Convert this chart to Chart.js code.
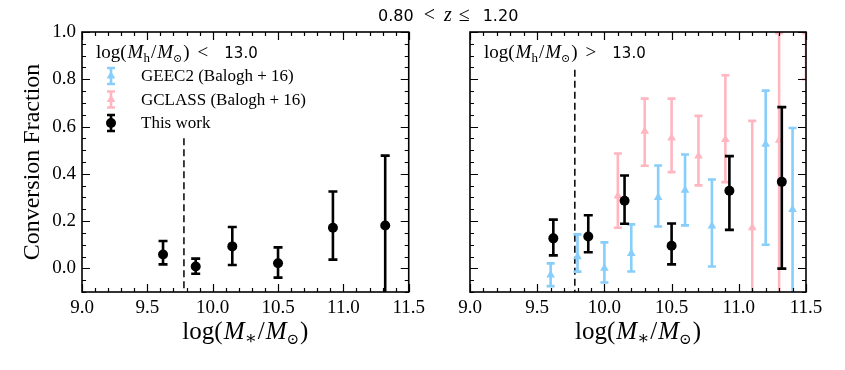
<!DOCTYPE html>
<html>
<head>
<meta charset="utf-8">
<script src="https://cdn.jsdelivr.net/npm/chart.js@4/dist/chart.umd.min.js"></script>
<style>
  body { margin: 0; background: #fff; }
  #wrap { position: relative; width: 845px; height: 370px; }
  #low { position: absolute; left: 0; top: 0; }
  #high { position: absolute; left: 430px; top: 0; }
  #title { position: absolute; left: 378px; top: 3px; white-space: nowrap;
           font: 16px 'DejaVu Sans', sans-serif; color: #000; }
  #title .m { font-family: 'Liberation Serif', 'DejaVu Serif', serif; font-size: 20px; }
</style>
</head>
<body>
<div id="wrap">
  <canvas id="low" width="430" height="370"></canvas>
  <canvas id="high" width="415" height="370"></canvas>
  <div id="title">0.80<span class="m" style="margin-left:10px">&lt;</span><span class="m" style="margin-left:9px"><i>z</i></span><span class="m" style="margin-left:7px">&le;</span><span style="margin-left:13px">1.20</span></div>
</div>
<script>
// axis ticks
const xTicks = [9.0, 9.5, 10.0, 10.5, 11.0, 11.5];
const yTicks = [0.0, 0.2, 0.4, 0.6, 0.8, 1.0];

// stellar mass completeness limit and where its dashed line starts in each panel
const massCut = 9.78;
const cutTopLow = 0.55;
const cutTopHigh = 0.84;

// log(Mh/Msun) < 13.0, this work
const lowX  = [9.62, 9.87, 10.15, 10.50, 10.92, 11.32];
const lowY  = [0.059, 0.008, 0.093, 0.022, 0.172, 0.181];
const lowLo = [0.017, -0.023, 0.014, -0.039, 0.037, -0.30];
const lowHi = [0.116, 0.041, 0.175, 0.089, 0.325, 0.477];

// log(Mh/Msun) > 13.0, this work
const highX  = [9.62, 9.88, 10.15, 10.50, 10.93, 11.32];
const highY  = [0.127, 0.135, 0.286, 0.096, 0.328, 0.366];
const highLo = [0.055, 0.068, 0.189, 0.017, 0.163, -0.001];
const highHi = [0.206, 0.225, 0.393, 0.190, 0.475, 0.682];

// GEEC2 (Balogh+16)
const geecX  = [9.6, 9.8, 10.0, 10.2, 10.4, 10.6, 10.8, 11.2, 11.4];
const geecY  = [-0.028, 0.049, 0.0, 0.063, 0.300, 0.331, 0.179, 0.525, 0.249];
const geecLo = [-0.075, -0.014, -0.060, -0.013, 0.177, 0.182, 0.008, 0.100, -0.30];
const geecHi = [0.021, 0.144, 0.110, 0.186, 0.435, 0.482, 0.376, 0.752, 0.594];

// GCLASS (Balogh+16)
const gclassX  = [10.1, 10.3, 10.5, 10.7, 10.9, 11.1, 11.3, 11.5];
const gclassY  = [0.306, 0.580, 0.552, 0.475, 0.545, 0.172, 0.542, 1.0];
const gclassLo = [0.172, 0.434, 0.407, 0.351, 0.365, -0.30, -0.30, 0.80];
const gclassHi = [0.486, 0.718, 0.718, 0.645, 0.817, 0.624, 0.995, 1.20];

const serif = "'Liberation Serif', 'DejaVu Serif', serif";
const sans = "'DejaVu Sans', sans-serif";
const blue = '#87CEFA';
const pink = '#FFB6C1';

Chart.defaults.font.family = serif;
Chart.defaults.color = '#000';

const pts = (xs, ys) => xs.map((x, i) => ({ x, y: ys[i] }));

// draw a row of text pieces with their own fonts (for the math labels)
function drawRuns(ctx, runs, x, y, align) {
  let w = 0;
  runs.forEach(r => { ctx.font = r.font; w += ctx.measureText(r.t).width + (r.gap || 0); });
  if (align === 'center') x -= w / 2;
  ctx.textAlign = 'left';
  ctx.textBaseline = 'alphabetic';
  ctx.fillStyle = '#000';
  runs.forEach(r => {
    ctx.font = r.font;
    x += r.gap || 0;
    ctx.fillText(r.t, x, y + (r.dy || 0));
    x += ctx.measureText(r.t).width;
  });
}

const massRuns = (sub, size) => [
  { t: 'log(', font: `${size}px ${serif}` },
  { t: 'M', font: `italic ${size}px ${serif}`, gap: 1 },
  { t: sub, font: `${Math.round(size * 0.7)}px ${serif}`, dy: size * 0.2 },
  { t: '/', font: `${size}px ${serif}`, gap: 1 },
  { t: 'M', font: `italic ${size}px ${serif}`, gap: 1 },
  { t: '⊙', font: `${Math.round(size * 0.6)}px ${serif}`, dy: size * 0.2 },
  { t: ')', font: `${size}px ${serif}`, gap: 1 }
];

function errorSets(geecData, gclassData, workX, workY, workLo, workHi, cutTop) {
  return [
    {
      label: 'GEEC2 (Balogh + 16)',
      data: geecData ? pts(geecX, geecY) : [],
      errLo: geecLo, errHi: geecHi, cap: 4,
      pointStyle: 'triangle', pointRadius: 5, backgroundColor: blue, borderColor: blue,
      borderWidth: 0, order: 2, clip: 0
    },
    {
      label: 'GCLASS (Balogh + 16)',
      data: gclassData ? pts(gclassX, gclassY) : [],
      errLo: gclassLo, errHi: gclassHi, cap: 4,
      pointStyle: 'triangle', pointRadius: 5, backgroundColor: pink, borderColor: pink,
      borderWidth: 0, order: 3, clip: 0
    },
    {
      label: 'This work',
      data: pts(workX, workY),
      errLo: workLo, errHi: workHi, cap: 4.5,
      pointStyle: 'circle', pointRadius: 5, backgroundColor: '#000', borderColor: '#000',
      borderWidth: 0, order: 1, clip: 0
    },
    {
      data: [{ x: massCut, y: cutTop }, { x: massCut, y: -0.1 }],
      showLine: true, borderColor: '#000', borderWidth: 1.5, borderDash: [7, 4],
      pointRadius: 0, order: 4, clip: 0
    }
  ];
}

const errorBars = {
  id: 'errorBars',
  beforeDatasetDraw(chart, args) {
    const ds = chart.data.datasets[args.index];
    if (!ds.errLo || !ds.data.length) return;
    const { ctx, chartArea: a, scales: { x, y } } = chart;
    ctx.save();
    ctx.beginPath();
    ctx.rect(a.left, a.top, a.right - a.left, a.bottom - a.top);
    ctx.clip();
    ctx.strokeStyle = ds.backgroundColor;
    ctx.lineWidth = 2.6;
    ds.data.forEach((p, i) => {
      const px = x.getPixelForValue(p.x);
      const lo = y.getPixelForValue(ds.errLo[i]);
      const hi = y.getPixelForValue(ds.errHi[i]);
      ctx.beginPath();
      ctx.moveTo(px, lo); ctx.lineTo(px, hi);
      ctx.moveTo(px - ds.cap, lo); ctx.lineTo(px + ds.cap, lo);
      ctx.moveTo(px - ds.cap, hi); ctx.lineTo(px + ds.cap, hi);
      ctx.stroke();
    });
    ctx.restore();
  }
};

// frame with inward major/minor ticks on all four sides
const frameTicks = {
  id: 'frameTicks',
  afterDraw(chart) {
    const { ctx, chartArea: a, scales: { x, y } } = chart;
    ctx.save();
    ctx.strokeStyle = '#000';
    ctx.lineWidth = 1.2;
    ctx.beginPath();
    const xt = (v, len) => {
      const p = Math.round(x.getPixelForValue(v)) + 0.5;
      ctx.moveTo(p, a.bottom); ctx.lineTo(p, a.bottom - len);
      ctx.moveTo(p, a.top); ctx.lineTo(p, a.top + len);
    };
    const yt = (v, len) => {
      const p = Math.round(y.getPixelForValue(v)) + 0.5;
      ctx.moveTo(a.left, p); ctx.lineTo(a.left + len, p);
      ctx.moveTo(a.right, p); ctx.lineTo(a.right - len, p);
    };
    for (let i = 0; i <= 25; i++) xt(9 + i / 10, i % 5 === 0 ? 8 : 4);
    for (let i = -2; i <= 20; i++) yt(i / 20, i % 4 === 0 ? 8 : 4);
    ctx.stroke();
    ctx.lineWidth = 1.6;
    ctx.strokeRect(a.left, a.top, a.right - a.left, a.bottom - a.top);
    ctx.restore();
  }
};

// header, legend and x title drawn inside each panel
function panelText(sign, withLegend) {
  return {
    id: 'panelText',
    afterDraw(chart) {
      const { ctx, chartArea: a } = chart;
      ctx.save();
      drawRuns(ctx, [
        ...massRuns('h', 19),
        { t: sign, font: `19px ${serif}`, gap: 8 },
        { t: '13.0', font: `15px ${sans}`, gap: 16 }
      ], a.left + 14, a.top + 26);

      drawRuns(ctx, massRuns('∗', 25), (a.left + a.right) / 2, 339, 'center');

      if (withLegend) {
        let row = a.top + 44;
        chart.data.datasets.filter(d => d.label).forEach(d => {
          const mx = a.left + 29;
          ctx.strokeStyle = d.backgroundColor;
          ctx.fillStyle = d.backgroundColor;
          ctx.lineWidth = 2.6;
          ctx.beginPath();
          ctx.moveTo(mx, row - 8); ctx.lineTo(mx, row + 8);
          ctx.moveTo(mx - 4, row - 8); ctx.lineTo(mx + 4, row - 8);
          ctx.moveTo(mx - 4, row + 8); ctx.lineTo(mx + 4, row + 8);
          ctx.stroke();
          Chart.helpers.drawPoint(ctx, {
            pointStyle: d.pointStyle, radius: d.pointRadius, borderWidth: 0
          }, mx, row);
          drawRuns(ctx, [{ t: d.label, font: `17px ${serif}` }], a.left + 59, row + 5);
          row += 23.5;
        });
      }
      ctx.restore();
    }
  };
}

function panel(id, datasets, sign, withLegend, leftWidth, padRight, showY) {
  return new Chart(document.getElementById(id), {
    type: 'scatter',
    data: { datasets },
    options: {
      responsive: false,
      animation: false,
      events: [],
      layout: { padding: { top: 32, right: padRight, bottom: 0, left: 0 } },
      plugins: { legend: { display: false }, tooltip: { enabled: false } },
      scales: {
        x: {
          min: 9.0, max: 11.5,
          afterBuildTicks: s => { s.ticks = xTicks.map(v => ({ value: v })); },
          afterFit: s => { s.height = 78; },
          grid: { display: false, drawTicks: false },
          border: { display: false },
          ticks: {
            padding: 5, color: '#000', maxRotation: 0,
            font: { family: serif, size: 19 },
            callback: v => v.toFixed(1)
          }
        },
        y: {
          min: -0.1, max: 1.0,
          afterBuildTicks: s => { s.ticks = yTicks.map(v => ({ value: v })); },
          afterFit: s => { s.width = leftWidth; },
          grid: { display: false, drawTicks: false },
          border: { display: false },
          ticks: {
            display: showY, padding: 6, color: '#000',
            font: { family: serif, size: 19 },
            callback: v => v.toFixed(1)
          },
          title: {
            display: showY, text: 'Conversion Fraction', color: '#000',
            font: { family: serif, size: 24 }, padding: { top: 18, bottom: 0 }
          }
        }
      }
    },
    plugins: [errorBars, frameTicks, panelText(sign, withLegend)]
  });
}

panel('low', errorSets(false, false, lowX, lowY, lowLo, lowHi, cutTopLow), '<', true, 82, 12, true);
panel('high', errorSets(true, true, highX, highY, highLo, highHi, cutTopHigh), '>', false, 40, 39, false);
</script>
</body>
</html>
